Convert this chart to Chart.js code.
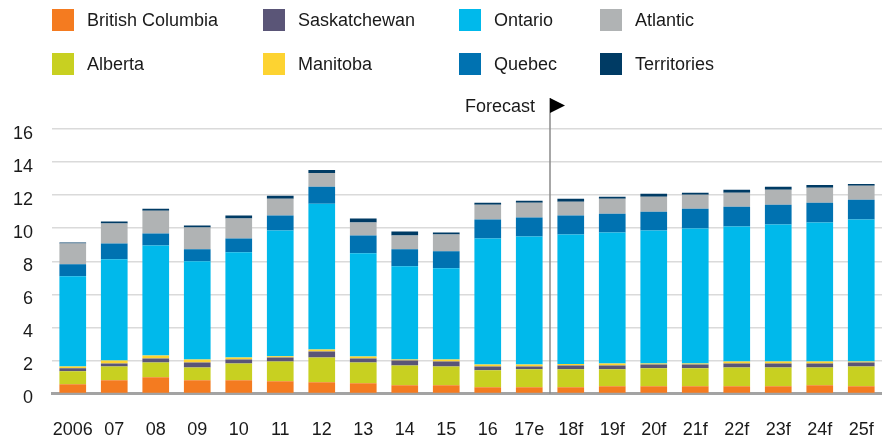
<!DOCTYPE html>
<html>
<head>
<meta charset="utf-8">
<script src="https://cdn.jsdelivr.net/npm/chart.js@4/dist/chart.umd.min.js"></script>
<style>
    body { margin: 0; background: #fff; }
    #wrap { position: relative; width: 882px; height: 442px; font-family: "Liberation Sans", Arial, Helvetica, sans-serif; }
    #legend { position: absolute; left: 0; top: 0; width: 882px; height: 85px; }
    .item { position: absolute; font-size: 18px; color: #1a1a1a; line-height: 22px; white-space: nowrap; }
    .item span { position: absolute; left: 0; top: 0; width: 22px; height: 22px; }
    .item b { font-weight: normal; position: absolute; left: 35px; top: 0; }
    canvas { position: absolute; left: 0; top: 0; }
</style>
</head>
<body>
<div id="wrap">
    <canvas id="chart" width="882" height="442"></canvas>
    <div id="legend"></div>
</div>
<script>
// categories
const years = ['2006', '07', '08', '09', '10', '11', '12', '13', '14', '15', '16', '17e',
    '18f', '19f', '20f', '21f', '22f', '23f', '24f', '25f'];

// series values, bottom of the stack first
const britishColumbia = [0.56, 0.8, 0.98, 0.8, 0.8, 0.74, 0.68, 0.62, 0.5, 0.5, 0.38, 0.38, 0.38, 0.44, 0.44, 0.44, 0.44, 0.44, 0.5, 0.44];
const alberta = [0.78, 0.84, 0.9, 0.78, 1.02, 1.2, 1.5, 1.26, 1.2, 1.14, 1.02, 1.08, 1.08, 1.02, 1.08, 1.08, 1.14, 1.14, 1.08, 1.2];
const saskatchewan = [0.18, 0.18, 0.24, 0.3, 0.24, 0.24, 0.36, 0.24, 0.3, 0.3, 0.24, 0.18, 0.24, 0.24, 0.24, 0.24, 0.24, 0.24, 0.24, 0.24];
const manitoba = [0.12, 0.18, 0.18, 0.18, 0.12, 0.08, 0.12, 0.12, 0.06, 0.12, 0.12, 0.12, 0.08, 0.12, 0.06, 0.06, 0.12, 0.12, 0.12, 0.06];
const ontario = [5.46, 6.12, 6.66, 5.94, 6.36, 7.6, 8.82, 6.24, 5.64, 5.52, 7.62, 7.74, 7.84, 7.92, 8.04, 8.16, 8.16, 8.28, 8.4, 8.58];
const quebec = [0.72, 0.96, 0.72, 0.72, 0.84, 0.9, 1.02, 1.08, 1.02, 1.02, 1.14, 1.14, 1.14, 1.14, 1.14, 1.2, 1.2, 1.2, 1.2, 1.2];
const atlantic = [1.26, 1.2, 1.38, 1.32, 1.2, 1.02, 0.84, 0.78, 0.84, 1.02, 0.9, 0.9, 0.84, 0.9, 0.9, 0.84, 0.84, 0.9, 0.9, 0.84];
const territories = [0.06, 0.12, 0.12, 0.12, 0.18, 0.18, 0.18, 0.24, 0.24, 0.12, 0.12, 0.12, 0.18, 0.12, 0.18, 0.12, 0.18, 0.18, 0.18, 0.12];

// y axis ticks
const yTicks = [0, 2, 4, 6, 8, 10, 12, 14, 16];

// forecast starts after this category
const lastActual = '17e';

const series = [
    { label: 'British Columbia', data: britishColumbia, color: '#f47b20' },
    { label: 'Alberta', data: alberta, color: '#c8d021' },
    { label: 'Saskatchewan', data: saskatchewan, color: '#5a5577' },
    { label: 'Manitoba', data: manitoba, color: '#fdd331' },
    { label: 'Ontario', data: ontario, color: '#00b9eb' },
    { label: 'Quebec', data: quebec, color: '#0072b1' },
    { label: 'Atlantic', data: atlantic, color: '#b0b3b4' },
    { label: 'Territories', data: territories, color: '#003b64' }
];

// legend: 4 columns, 2 rows
const legendCols = [
    ['British Columbia', 'Alberta'],
    ['Saskatchewan', 'Manitoba'],
    ['Ontario', 'Quebec'],
    ['Atlantic', 'Territories']
];
const colX = [52, 263, 459, 600];
const rowY = [9, 53];

let legend = document.getElementById('legend');
legendCols.forEach((col, c) => {
    col.forEach((name, r) => {
        let s = series.find(d => d.label === name);
        let item = document.createElement('div');
        item.className = 'item';
        item.style.left = colX[c] + 'px';
        item.style.top = rowY[r] + 'px';
        item.innerHTML = '<span style="background:' + s.color + '"></span><b>' + name + '</b>';
        legend.appendChild(item);
    });
});

const FONT = '"Liberation Sans", Arial, Helvetica, sans-serif';

// vertical line with "Forecast" flag
const forecastLine = {
    id: 'forecastLine',
    afterDatasetsDraw(chart) {
        let x = chart.scales.x;
        let i = years.indexOf(lastActual);
        let px = (x.getPixelForValue(i) + x.getPixelForValue(i + 1)) / 2;
        let ctx = chart.ctx;
        ctx.save();
        ctx.strokeStyle = '#8a8a8a';
        ctx.lineWidth = 1.5;
        ctx.beginPath();
        ctx.moveTo(px, 98);
        ctx.lineTo(px, chart.chartArea.bottom);
        ctx.stroke();
        ctx.fillStyle = '#000';
        ctx.beginPath();
        ctx.moveTo(px, 98);
        ctx.lineTo(px + 15, 105.5);
        ctx.lineTo(px, 113);
        ctx.closePath();
        ctx.fill();
        ctx.font = '18px ' + FONT;
        ctx.fillStyle = '#1a1a1a';
        ctx.textAlign = 'right';
        ctx.textBaseline = 'middle';
        ctx.fillText('Forecast', px - 15, 107);
        ctx.restore();
    }
};

new Chart(document.getElementById('chart'), {
    type: 'bar',
    data: {
        labels: years,
        datasets: series.map(s => ({
            label: s.label,
            data: s.data,
            backgroundColor: s.color,
            borderWidth: 0,
            barPercentage: 0.643,
            categoryPercentage: 1
        }))
    },
    options: {
        responsive: false,
        animation: false,
        layout: { padding: { top: 129, left: 0, right: 0, bottom: 0 } },
        plugins: {
            legend: { display: false },
            tooltip: { enabled: false }
        },
        scales: {
            x: {
                stacked: true,
                z: 1,
                grid: { display: false, drawTicks: false },
                border: { display: true, color: '#a3a3a3', width: 3 },
                ticks: {
                    color: '#1a1a1a',
                    font: { family: FONT, size: 18 },
                    padding: 26,
                    maxRotation: 0,
                    autoSkip: false
                },
                afterFit(scale) {
                    scale.height = 48.5;
                    scale.paddingLeft = 0;
                    scale.paddingRight = 0;
                }
            },
            y: {
                stacked: true,
                min: 0,
                max: 16,
                afterBuildTicks(scale) { scale.ticks = yTicks.map(v => ({ value: v })); },
                grid: { color: '#dadada', lineWidth: 1.5, drawTicks: false },
                border: { display: false },
                ticks: {
                    color: '#1a1a1a',
                    font: { family: FONT, size: 18 },
                    padding: 19,
                    labelOffset: 5
                },
                afterFit(scale) {
                    scale.width = 52;
                    scale.paddingTop = 0;
                    scale.paddingBottom = 0;
                }
            }
        }
    },
    plugins: [forecastLine]
});
</script>
</body>
</html>
